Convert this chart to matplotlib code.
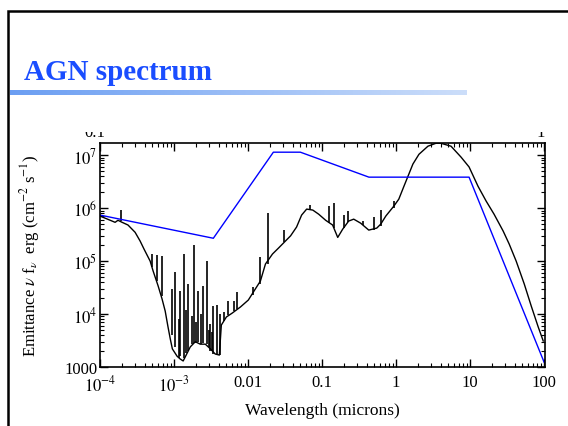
import numpy as np
import matplotlib
matplotlib.use("Agg")
import matplotlib.pyplot as plt
from matplotlib.patches import Rectangle

plt.rcParams['font.family'] = ['Liberation Serif', 'DejaVu Serif']
plt.rcParams['mathtext.fontset'] = 'stix'

# observed spectrum: smooth continuum (microns, erg cm^-2 s^-1)
cont_wl = [1.0e-4, 1.6e-4, 1.75e-4, 1.99e-4, 2.39e-4, 2.98e-4, 3.48e-4, 3.94e-4,
           4.76e-4, 5.22e-4, 6.1e-4, 6.9e-4, 7.6e-4, 8.3e-4, 8.9e-4, 9.5e-4,
           1.10e-3, 1.21e-3, 1.33e-3, 1.66e-3, 1.94e-3, 2.26e-3, 2.65e-3, 3.1e-3,
           3.6e-3, 4.1e-3, 4.36e-3, 5.1e-3, 6.1e-3, 7.9e-3, 1.01e-2, 1.26e-2,
           1.47e-2, 1.72e-2, 2.14e-2, 2.58e-2, 3.21e-2, 3.76e-2, 4.53e-2, 5.3e-2,
           6.2e-2, 7.5e-2, 9.0e-2, 0.112, 0.139, 0.163, 0.190, 0.229, 0.268,
           0.333, 0.428, 0.549, 0.622, 0.728, 0.933, 1.09, 1.28, 1.45, 1.69,
           2.04, 2.70, 3.46, 4.04, 5.53, 7.56, 9.7, 12.8, 16.5, 21.1, 28.0,
           33.8, 42.0, 54.0, 67.1, 83.4, 97.5]
cont_flux = [7.1e5, 5.4e5, 5.9e5, 5.4e5, 4.8e5, 3.5e5, 2.4e5, 1.68e5,
             1.0e5, 6.5e4, 3.4e4, 1.92e4, 1.14e4, 5.7e3, 3.4e3, 2.2e3,
             1.6e3, 1.42e3, 1.3e3, 2.4e3, 3.0e3, 2.7e3, 2.7e3, 2.2e3,
             1.76e3, 1.68e3, 6.2e3, 8.8e3, 1.04e4, 1.36e4, 1.84e4, 3.0e4,
             4.2e4, 8.8e4, 1.36e5, 1.76e5, 2.4e5, 3.0e5, 4.4e5, 7.4e5,
             9.6e5, 9.2e5, 7.7e5, 5.9e5, 4.8e5, 2.8e5, 4.0e5, 5.7e5, 6.2e5,
             5.2e5, 3.85e5, 4.2e5, 5.0e5, 7.1e5, 1.09e6, 1.48e6, 2.6e6, 4.0e6, 6.8e6,
             1.04e7, 1.48e7, 1.68e7, 1.68e7, 1.48e7, 9.2e6, 6.0e6, 2.6e6, 1.36e6, 7.7e5, 3.7e5,
             2.1e5, 1.0e5, 3.7e4, 1.42e4, 5.7e3, 3.1e3]

# emission lines on top of the continuum
line_wl = [1.93e-4, 5.07e-4, 5.92e-4, 6.9e-4, 9.5e-4, 1.04e-3, 1.15e-3, 1.21e-3,
           1.37e-3, 1.47e-3, 1.56e-3, 1.75e-3, 1.88e-3, 2.0e-3, 2.13e-3, 2.35e-3,
           2.49e-3, 2.82e-3, 3.0e-3, 3.1e-3, 3.25e-3, 3.4e-3, 3.85e-3, 4.2e-3,
           4.7e-3, 5.4e-3, 6.5e-3, 7.2e-3, 1.15e-2, 1.43e-2, 1.89e-2, 3.02e-2,
           6.8e-2, 0.123, 0.144, 0.196, 0.222, 0.355, 0.5, 0.622, 0.93]
line_base = [5.7e5, 7.7e4, 4.2e4, 2.2e4, 4.0e3, 2.4e3, 1.5e3, 1.6e3,
             1.5e3, 1.8e3, 2.0e3, 2.7e3, 2.8e3, 2.9e3, 3.0e3, 2.7e3,
             2.8e3, 2.7e3, 2.4e3, 2.0e3, 2.0e3, 1.76e3, 1.7e3, 1.7e3,
             7.5e3, 9.6e3, 1.15e4, 1.24e4, 2.3e4, 3.7e4, 8.8e4, 2.3e5,
             9.6e5, 5.2e5, 4.2e5, 4.2e5, 5.4e5, 4.8e5, 3.85e5, 4.6e5, 1.0e6]
line_peak = [9.2e5, 1.36e5, 1.3e5, 1.24e5, 3.0e4, 6.2e4, 8.0e3, 2.7e4,
             1.36e5, 1.2e4, 3.7e4, 9.0e3, 2.0e5, 7.0e3, 2.7e4, 1.0e4,
             3.4e4, 1.0e5, 5.0e3, 6.5e3, 4.5e3, 1.4e4, 1.5e4, 1.0e4,
             1.1e4, 1.76e4, 1.8e4, 2.6e4, 3.2e4, 1.19e5, 8.1e5, 3.85e5,
             1.14e6, 1.09e6, 1.24e6, 7.4e5, 8.8e5, 5.7e5, 6.8e5, 9.2e5, 1.36e6]

# broken power-law model (blue)
model_wl = [1e-4, 3.4e-3, 0.022, 0.051, 0.43, 9.7, 100]
model_flux = [7.4e5, 2.7e5, 1.14e7, 1.14e7, 3.85e6, 3.85e6, 1.24e3]

xticks = [1e-4, 1e-3, 1e-2, 1e-1, 1, 10, 100]
xticklabels = [r'$10^{-4}$', r'$10^{-3}$', '0.01', '0.1', '1', '10', '100']
yticks = [1e3, 1e4, 1e5, 1e6, 1e7]
yticklabels = ['1000', r'$10^4$', r'$10^5$', r'$10^6$', r'$10^7$']

fig = plt.figure(figsize=(5.68, 4.27), dpi=100)

# slide frame
fig.patches.append(Rectangle((8 / 568, -0.1), 1.2, 1.1 - 12 / 427, transform=fig.transFigure,
                             fill=False, edgecolor='black', lw=1.8, zorder=0))
fig.text(24 / 568, 1 - 80 / 427, 'AGN spectrum', color='#1a4dff', fontsize=21,
         fontweight='bold', ha='left', va='baseline')
# gradient rule under the title
gax = fig.add_axes([10 / 568, 1 - 96 / 427, 457 / 568, 5 / 427])
grad = np.linspace(0, 1, 256)[None, :, None]
c0 = np.array([0.42, 0.62, 0.95])
c1 = np.array([0.80, 0.87, 0.98])
gax.imshow(c0 + (c1 - c0) * grad, aspect='auto')
gax.axis('off')

# clipped remnants of top labels
fig.text(95 / 568, 1 - 137 / 427, '0.1', fontsize=12, ha='center', va='baseline')
fig.text(541 / 568, 1 - 137 / 427, '1', fontsize=12, ha='center', va='baseline')
fig.patches.append(Rectangle((0.02, 1 - 133 / 427), 0.97, 20 / 427, transform=fig.transFigure,
                             facecolor='white', edgecolor='none', zorder=5))

ax = fig.add_axes([100 / 568, 1 - 368 / 427, 445 / 568, 224 / 427])
ax.plot(cont_wl, cont_flux, color='black', lw=1.0)
ax.vlines(line_wl, line_base, line_peak, color='black', lw=1.2)
ax.plot(model_wl, model_flux, color='blue', lw=1.0)
ax.set_xscale('log')
ax.set_yscale('log')
ax.set_xlim(1e-4, 103)
ax.set_ylim(1000, 1.7e7)
ax.set_xticks(xticks)
ax.set_xticklabels(xticklabels)
ax.set_yticks(yticks)
ax.set_yticklabels(yticklabels)
ax.tick_params(which='both', direction='in', top=True, right=True, labelsize=12)
ax.tick_params(which='major', length=6, width=1)
ax.tick_params(which='minor', length=3, width=0.8)
ax.tick_params(axis='x', pad=5)
ax.tick_params(axis='y', pad=2)
for s in ax.spines.values():
    s.set_linewidth(1.2)
ax.set_xlabel('Wavelength (microns)', fontsize=12.5)
ax.set_ylabel(r'Emittance $\nu$ f$_\nu$  erg (cm$^{-2}$ s$^{-1}$)', fontsize=12)
ax.xaxis.set_label_coords(0.5, -0.155)
ax.yaxis.set_label_coords(-0.13, 0.5)

fig.savefig('out.png', dpi=100)
